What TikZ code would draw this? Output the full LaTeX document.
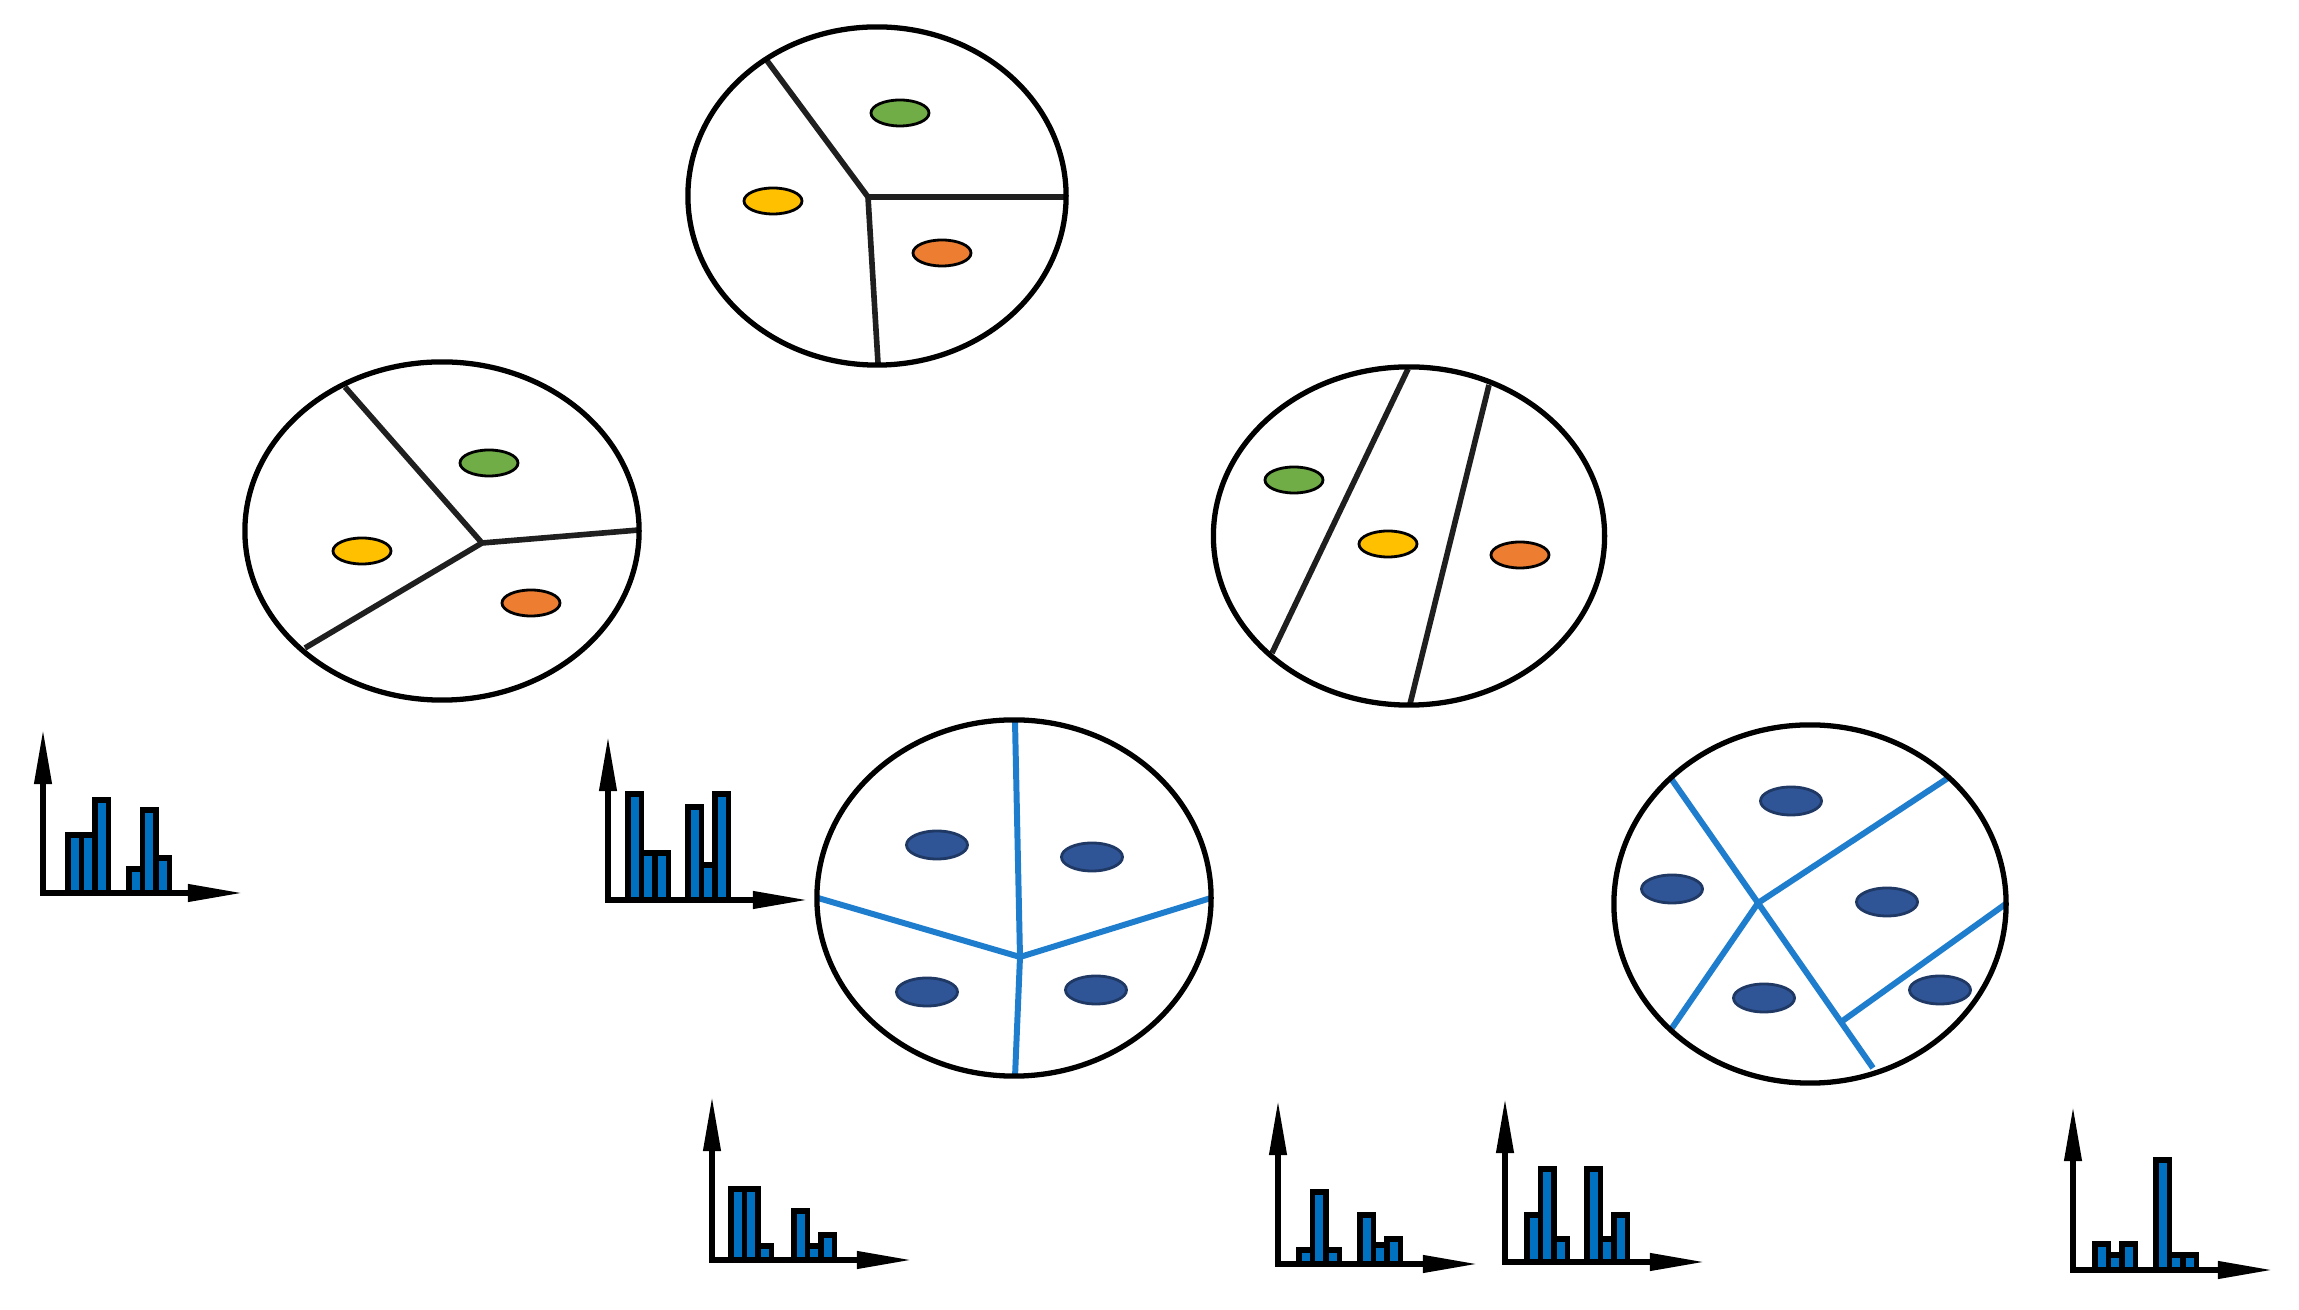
\documentclass[tikz,border=0pt]{standalone}
\usetikzlibrary{shapes.geometric,arrows.meta}
\definecolor{cgreen}{RGB}{112,173,71}
\definecolor{cyellow}{RGB}{255,192,0}
\definecolor{corange}{RGB}{237,125,49}
\definecolor{cdblue}{RGB}{47,85,151}
\definecolor{cdblueline}{RGB}{31,56,100}
\definecolor{barblue}{RGB}{0,112,192}
\definecolor{lineblue}{RGB}{30,125,205}
\newcommand{\hgram}[4]{%
  \begin{scope}[shift={(#2,#3)}]
    \foreach \s/\h in {#4} {\draw[bar] (\s,0) rectangle ++(13.5,-\h);}
    \coordinate (#1o) at (0,0);
    \coordinate (#1y) at (0,-164);
    \coordinate (#1x) at (200,0);
    \draw[axis] (#1y) -- (#1o) -- (#1x);
  \end{scope}}
\begin{document}
\begin{tikzpicture}[x=0.01cm,y=-0.01cm,
  bigc/.style={ellipse, draw=black, line width=1.5pt, inner sep=0pt, fill=none},
  blob/.style={ellipse, draw=black, line width=0.8pt, fill=#1, inner sep=0pt, minimum width=0.58cm, minimum height=0.26cm},
  dblob/.style={ellipse, draw=cdblueline, line width=0.8pt, fill=cdblue, inner sep=0pt, minimum width=0.61cm, minimum height=0.28cm},
  div/.style={line width=1.6pt, draw=black!88},
  bdiv/.style={line width=1.7pt, draw=lineblue},
  bar/.style={draw=black, line width=1.5pt, fill=barblue},
  axis/.style={line width=1.6pt, draw=black, line join=miter,
    arrows={Triangle[length=0.55cm,width=0.165cm]-Triangle[length=0.55cm,width=0.165cm]}}]
\useasboundingbox (0,0) rectangle (2299,1310);

% ---------- circle 1 (top) ----------
\coordinate (c1j) at (868,197);
\coordinate (c1a) at (765,58);
\coordinate (c1b) at (1067,197);
\coordinate (c1c) at (878,363);
\draw[div] (c1a) -- (c1j) -- (c1b);
\draw[div] (c1j) -- (c1c);
\node[bigc, minimum width=3.78cm, minimum height=3.38cm] (c1) at (877,196) {};
\node[blob=cgreen] (c1g) at (900,113) {};
\node[blob=cyellow] (c1y) at (773,201) {};
\node[blob=corange] (c1o) at (942,253) {};

% ---------- circle 2 (left) ----------
\coordinate (c2j) at (482,543);
\coordinate (c2a) at (345,387);
\coordinate (c2b) at (639,530);
\coordinate (c2c) at (305,648);
\draw[div] (c2a) -- (c2j) -- (c2b);
\draw[div] (c2j) -- (c2c);
\node[bigc, minimum width=3.94cm, minimum height=3.38cm] (c2) at (442,531) {};
\node[blob=cgreen] (c2g) at (489,463) {};
\node[blob=cyellow] (c2y) at (362,551) {};
\node[blob=corange] (c2o) at (531,603) {};

% ---------- circle 3 (right) ----------
\coordinate (c3a) at (1408,369);
\coordinate (c3b) at (1272,653);
\coordinate (c3c) at (1489,385);
\coordinate (c3d) at (1410,704);
\draw[div] (c3a) -- (c3b);
\draw[div] (c3c) -- (c3d);
\node[bigc, minimum width=3.91cm, minimum height=3.38cm] (c3) at (1409,536) {};
\node[blob=cgreen] (c3g) at (1294,480) {};
\node[blob=cyellow] (c3y) at (1388,544) {};
\node[blob=corange] (c3o) at (1520,555) {};

% ---------- circle 4 (bottom middle) ----------
\coordinate (c4j) at (1020,957);
\coordinate (c4t) at (1015,721);
\coordinate (c4b) at (1015,1077);
\coordinate (c4l) at (818,898);
\coordinate (c4r) at (1211,898);
\draw[bdiv] (c4t) -- (c4j) -- (c4b);
\draw[bdiv] (c4l) -- (c4j) -- (c4r);
\node[bigc, minimum width=3.94cm, minimum height=3.56cm] (c4) at (1014,898) {};
\node[dblob] (c4p1) at (937,845) {};
\node[dblob] (c4p2) at (1092,857) {};
\node[dblob] (c4p3) at (927,992) {};
\node[dblob] (c4p4) at (1096,990) {};

% ---------- circle 5 (bottom right) ----------
\coordinate (c5j) at (1758,903);
\coordinate (c5a) at (1670,777);
\coordinate (c5b) at (1873,1068);
\coordinate (c5c) at (1948,778);
\coordinate (c5d) at (1672,1028);
\coordinate (c5k) at (1841,1022);
\coordinate (c5e) at (2007,903);
\draw[bdiv] (c5a) -- (c5j) -- (c5b);
\draw[bdiv] (c5c) -- (c5j) -- (c5d);
\draw[bdiv] (c5k) -- (c5e);
\node[bigc, minimum width=3.92cm, minimum height=3.58cm] (c5) at (1810,904) {};
\node[dblob] (c5p1) at (1791,801) {};
\node[dblob] (c5p2) at (1672,889) {};
\node[dblob] (c5p3) at (1887,902) {};
\node[dblob] (c5p4) at (1764,998) {};
\node[dblob] (c5p5) at (1940,990) {};

% ---------- histograms ----------
\hgram{h1}{43}{893}{25/58, 38.5/58, 52/93, 86/24, 99.5/83, 113/35}
\hgram{h2}{608}{900}{20/106, 33.5/47, 47/47, 80/93, 93.5/35, 107/106}
\hgram{h3}{712}{1260}{19/71, 32.5/71, 46/14, 82/49, 95.5/14, 109/25}
\hgram{h4}{1278}{1264}{21/14, 34.5/72, 48/14, 82/49, 95.5/19, 109/25}
\hgram{h5}{1505}{1262}{22/47, 35.5/93, 49/23, 82/93, 95.5/23, 109/47}
\hgram{h6}{2073}{1270}{22/26, 35.5/15, 49/26, 83/110, 96.5/15, 110/15}
\end{tikzpicture}
\end{document}
